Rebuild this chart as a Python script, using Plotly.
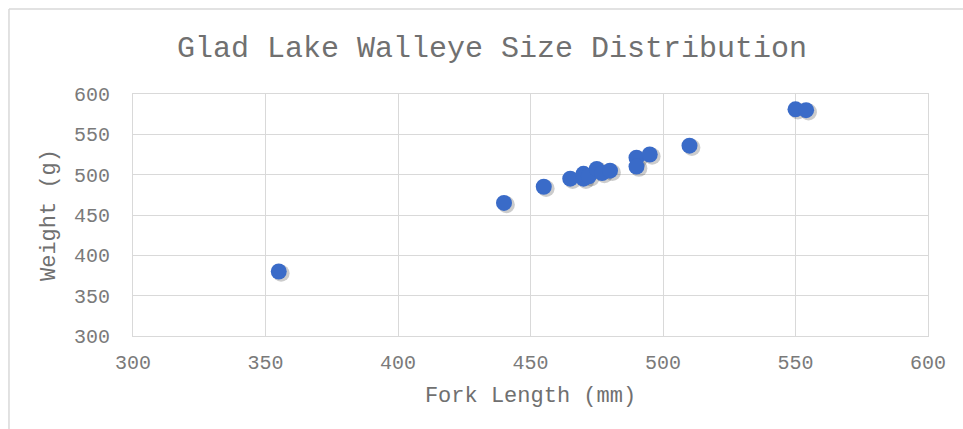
import plotly.graph_objects as go

# Walleye samples from Glad Lake
fork_length_mm = [355, 440, 455, 465, 470, 470, 472, 475, 477, 480, 490, 490, 495, 510, 550, 554]
weight_g = [380, 465, 485, 495, 495, 501, 498, 507, 502, 505, 521, 510, 525, 536, 581, 580]

axis_ticks = [300, 350, 400, 450, 500, 550, 600]

FONT = "Liberation Mono, Courier New, monospace"
TEXT = "#7a7a7a"
GRID = "#d9d9d9"

fig = go.Figure()

# soft drop shadow under each marker
fig.add_trace(go.Scatter(
    x=[v + 0.9 for v in fork_length_mm],
    y=[v - 2.2 for v in weight_g],
    mode="markers",
    marker=dict(size=17, color="rgba(0,0,0,0.2)", line=dict(width=0)),
    hoverinfo="skip",
    showlegend=False,
))

fig.add_trace(go.Scatter(
    x=fork_length_mm,
    y=weight_g,
    mode="markers",
    marker=dict(size=16, color="#3a6bc8", line=dict(width=0)),
    showlegend=False,
))

axis_common = dict(
    range=[300, 600],
    tickvals=axis_ticks,
    showgrid=True,
    gridcolor=GRID,
    gridwidth=1,
    zeroline=False,
    showline=True,
    linecolor=GRID,
    linewidth=1,
    mirror=True,
    ticks="",
    tickfont=dict(family=FONT, size=20, color=TEXT),
)

fig.update_layout(
    width=963,
    height=429,
    margin=dict(l=133, r=35, t=94, b=93),
    paper_bgcolor="white",
    plot_bgcolor="white",
    title=dict(
        text="Glad Lake Walleye Size Distribution",
        font=dict(family=FONT, size=30, color="#707070"),
        x=492 / 963,
        xanchor="center",
        y=1 - 46 / 429,
        yanchor="middle",
    ),
    xaxis=dict(
        **axis_common,
        ticklabelstandoff=8,
        title=dict(text="Fork Length (mm)", font=dict(family=FONT, size=22, color="#707070"), standoff=12),
    ),
    yaxis=dict(
        **axis_common,
        ticklabelstandoff=18,
        title=dict(text="Weight (g)", font=dict(family=FONT, size=22, color="#707070"), standoff=12),
    ),
    shapes=[
        dict(type="line", xref="paper", yref="paper", x0=-0.156, x1=1.1, y0=1.351, y1=1.351,
             line=dict(color=GRID, width=1.5)),
        dict(type="line", xref="paper", yref="paper", x0=-0.156, x1=-0.156, y0=1.351, y1=-0.5,
             line=dict(color=GRID, width=1.5)),
    ],
)

fig.write_html("out.html")
